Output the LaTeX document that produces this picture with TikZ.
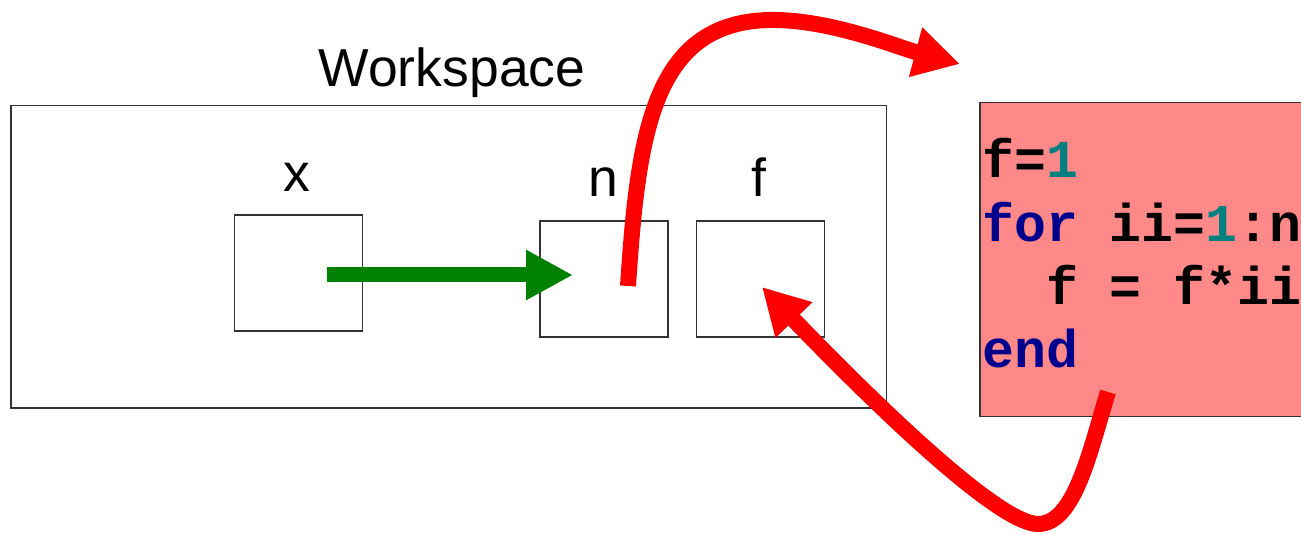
\documentclass[tikz,border=0pt]{standalone}
\usepackage{fontspec}
\setmainfont{Liberation Sans}
\newfontfamily\codefont{Liberation Mono}
\usetikzlibrary{arrows.meta}
\definecolor{codebg}{RGB}{255,136,136}
\definecolor{kwblue}{RGB}{0,0,140}
\definecolor{numteal}{RGB}{0,128,128}
\definecolor{flowgreen}{RGB}{0,128,0}
\definecolor{flowred}{RGB}{255,0,0}
\tikzset{
  varbox/.style={draw=black!80, line width=1.1pt, inner sep=0pt,
                 minimum width=128pt, minimum height=116pt},
  label/.style={font=\fontsize{53.5}{64}\selectfont, anchor=base, inner sep=0pt},
  codeline/.style={font=\codefont\bfseries\fontsize{53.2}{64}\selectfont,
                   anchor=base west, inner sep=0pt},
  greenflow/.style={draw=flowgreen, line width=15pt,
                    -{Triangle[length=47pt,width=47pt]}, color=flowgreen},
  redflow/.style={draw=flowred, line width=16pt,
                  -{Triangle[length=46pt,width=48pt]}, color=flowred},
}
\begin{document}
\begin{tikzpicture}[x=1pt,y=-1pt]
\useasboundingbox (0,0) rectangle (1301,534);

% workspace frame and its title
\node[draw=black!80, line width=1.1pt, inner sep=0pt,
      minimum width=875.7pt, minimum height=302.7pt] (ws) at (448.85,256.65) {};
\node[label] (wslabel) at (452,86.7) {Workspace};

% variables
\node[varbox] (xbox) at (298.25,273) {};
\node[varbox] (nbox) at (604,279) {};
\node[varbox] (fbox) at (760.6,279) {};
\node[label] (xlabel) at (297,191.7) {x};
\node[label] (nlabel) at (603.3,196.7) {n};
\node[label] (flabel) at (759,196.7) {f};

% function body
\node[draw=black!80, line width=1.1pt, fill=codebg, inner sep=0pt,
      minimum width=340pt, minimum height=314.4pt] (code) at (1150,259.5) {};
\node[codeline] (l1) at (982,178) {f=\textcolor{numteal}{1}};
\node[codeline] (l2) at (982,241.7) {\textcolor{kwblue}{for} ii=\textcolor{numteal}{1}:n};
\node[codeline] (l3) at (982,305) {\hphantom{xx}f = f*ii};
\node[codeline] (l4) at (982,368) {\textcolor{kwblue}{end}};

% connector ends
\coordinate (xout) at (327,275);
\coordinate (nin) at (573,275);
\coordinate (nout) at (628,286);
\coordinate (codein) at (960,64);
\coordinate (codeout) at (1108,392);
\coordinate (fin) at (762,287);

% x is copied into n
\draw[greenflow] (xout) -- (nin);
% n is passed into the function
\draw[redflow] (nout) .. controls (638,135) and (652,22) .. (770,20)
               .. controls (830,19) and (900,48) .. (codein);
% the result comes back into f
\draw[redflow] (codeout) .. controls (1090,450) and (1075,524) .. (1038,524)
               .. controls (1005,524) and (910,440) .. (fin);
\end{tikzpicture}
\end{document}
